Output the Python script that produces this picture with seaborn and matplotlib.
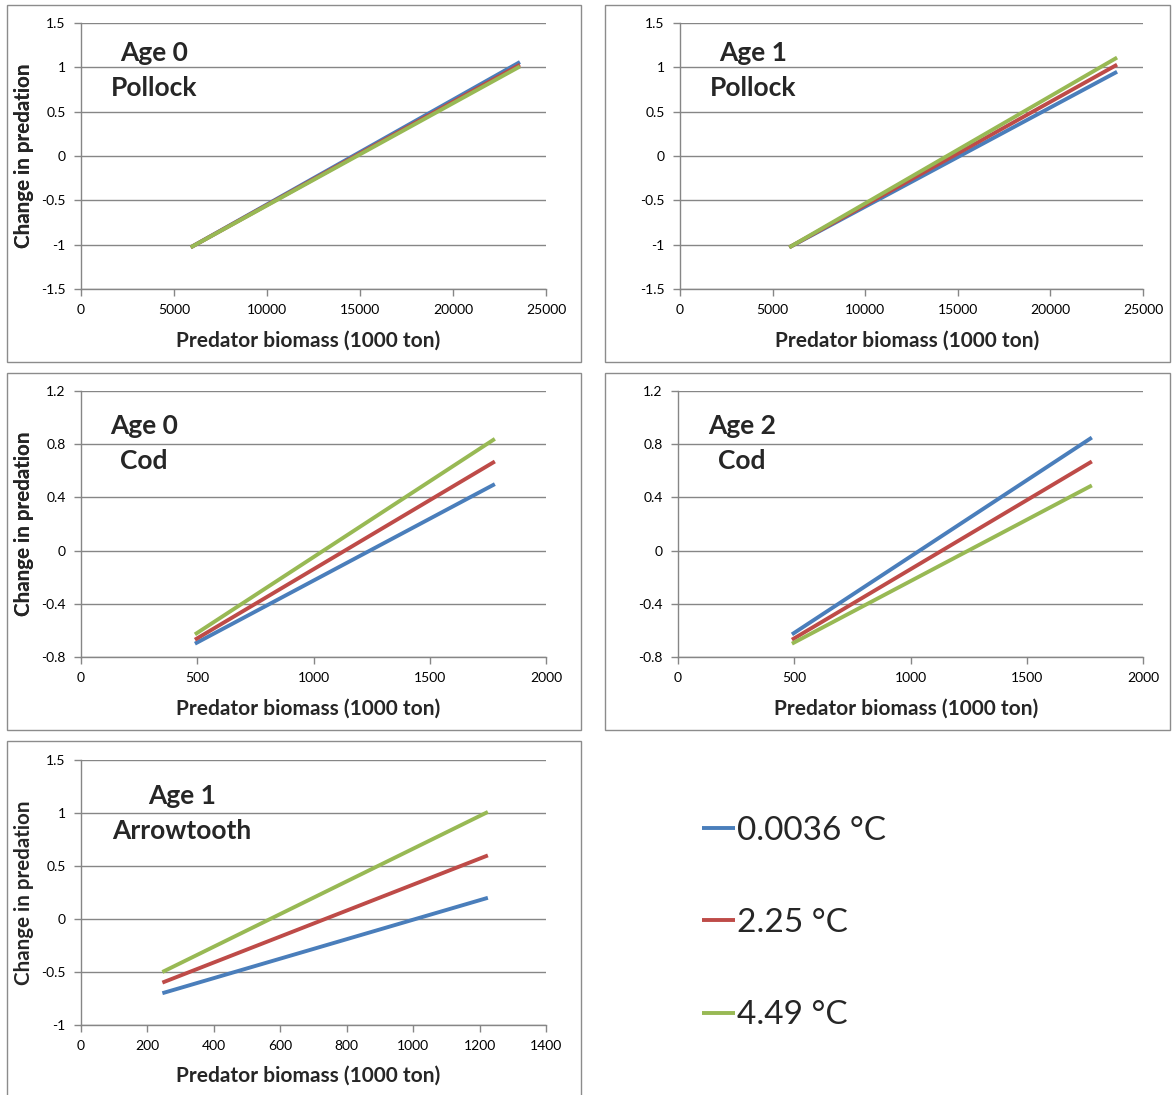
import matplotlib
matplotlib.use("Agg")
import matplotlib.pyplot as plt
from matplotlib.patches import Rectangle
import pandas as pd
import seaborn as sns

# Temperature scenarios and line colours
scenarios = ["0.0036 °C", "2.25 °C", "4.49 °C"]
colors = ["#4A7EBB", "#BE4B48", "#98B954"]

# Each series runs from a low to a high predator biomass (straight lines)
pollock0_x = [5900, 23600]
pollock0_y = {"0.0036 °C": [-1.03, 1.06], "2.25 °C": [-1.03, 1.03], "4.49 °C": [-1.03, 1.01]}

pollock1_x = [5900, 23600]
pollock1_y = {"0.0036 °C": [-1.03, 0.95], "2.25 °C": [-1.03, 1.03], "4.49 °C": [-1.03, 1.11]}

cod0_x = [490, 1780]
cod0_y = {"0.0036 °C": [-0.70, 0.50], "2.25 °C": [-0.67, 0.67], "4.49 °C": [-0.63, 0.84]}

cod2_x = [490, 1780]
cod2_y = {"0.0036 °C": [-0.63, 0.85], "2.25 °C": [-0.67, 0.67], "4.49 °C": [-0.70, 0.49]}

arrow1_x = [245, 1225]
arrow1_y = {"0.0036 °C": [-0.70, 0.20], "2.25 °C": [-0.60, 0.60], "4.49 °C": [-0.50, 1.01]}

titles = [("Age 0", "Pollock"), ("Age 1", "Pollock"), ("Age 0", "Cod"),
          ("Age 2", "Cod"), ("Age 1", "Arrowtooth")]
x_ticks = [[0, 5000, 10000, 15000, 20000, 25000],
           [0, 5000, 10000, 15000, 20000, 25000],
           [0, 500, 1000, 1500, 2000],
           [0, 500, 1000, 1500, 2000],
           [0, 200, 400, 600, 800, 1000, 1200, 1400]]
y_ticks = [[-1.5, -1, -0.5, 0, 0.5, 1, 1.5],
           [-1.5, -1, -0.5, 0, 0.5, 1, 1.5],
           [-0.8, -0.4, 0, 0.4, 0.8, 1.2],
           [-0.8, -0.4, 0, 0.4, 0.8, 1.2],
           [-1, -0.5, 0, 0.5, 1, 1.5]]
y_labels = [["-1.5", "-1", "-0.5", "0", "0.5", "1", "1.5"],
            ["-1.5", "-1", "-0.5", "0", "0.5", "1", "1.5"],
            ["-0.8", "-0.4", "0", "0.4", "0.8", "1.2"],
            ["-0.8", "-0.4", "0", "0.4", "0.8", "1.2"],
            ["-1", "-0.5", "0", "0.5", "1", "1.5"]]
panels = [(pollock0_x, pollock0_y), (pollock1_x, pollock1_y), (cod0_x, cod0_y),
          (cod2_x, cod2_y), (arrow1_x, arrow1_y)]

sns.set_theme(style="white")
plt.rcParams["font.family"] = ["Lato", "DejaVu Sans"]

W, H = 1173, 1095
fig = plt.figure(figsize=(W / 100, H / 100), dpi=100)

# layout in pixels: plot area (left, right, top, bottom), chart box, title placement
plot_px = [(81, 546, 23, 289), (680, 1143, 23, 289), (81, 546, 391, 657),
           (678, 1143, 391, 657), (81, 546, 760, 1025)]
box_px = [(7, 581, 5, 362), (605, 1170, 5, 362), (7, 581, 373, 730),
          (605, 1170, 373, 730), (7, 581, 741, 1100)]
title_pos = [(0.157, 0.887, 0.756), (0.158, 0.887, 0.756), (0.135, 0.868, 0.737),
             (0.138, 0.868, 0.737), (0.217, 0.864, 0.732)]

grid_c = "#868686"
handles = None
for i, ((xs, ys), (l, r, t, b), (bl, br, bt, bb)) in enumerate(zip(panels, plot_px, box_px)):
    fig.add_artist(Rectangle((bl / W, 1 - bb / H), (br - bl) / W, (bb - bt) / H,
                             transform=fig.transFigure, fill=False,
                             edgecolor="#8c8c8c", linewidth=1.0))
    ax = fig.add_axes([l / W, 1 - b / H, (r - l) / W, (b - t) / H])
    df = pd.DataFrame([{"biomass": x, "change": y, "scenario": s}
                       for s in scenarios for x, y in zip(xs, ys[s])])
    sns.lineplot(data=df, x="biomass", y="change", hue="scenario",
                 hue_order=scenarios, palette=colors, linewidth=2.8,
                 ax=ax, legend=(i == 0), solid_capstyle="butt")
    if i == 0:
        handles, labels = ax.get_legend_handles_labels()
        ax.get_legend().remove()
    ax.set_xlim(x_ticks[i][0], x_ticks[i][-1])
    ax.set_ylim(y_ticks[i][0], y_ticks[i][-1])
    ax.set_xticks(x_ticks[i])
    ax.set_xticklabels([str(v) for v in x_ticks[i]])
    ax.set_yticks(y_ticks[i])
    ax.set_yticklabels(y_labels[i])
    ax.yaxis.grid(True, color=grid_c, linewidth=1.0)
    ax.xaxis.grid(False)
    for side in ["top", "right"]:
        ax.spines[side].set_visible(False)
    for side in ["left", "bottom"]:
        ax.spines[side].set_color(grid_c)
        ax.spines[side].set_linewidth(1.0)
    ax.tick_params(axis="both", which="major", length=5, width=1.0, color=grid_c,
                   labelsize=10, labelcolor="black", direction="out", pad=6,
                   left=True, bottom=True)
    ax.set_xlabel("Predator biomass (1000 ton)", fontsize=15, fontweight="bold")
    ax.xaxis.set_label_coords((308 - l) / (r - l) if i % 2 == 0 else 0.49, -0.155)
    ax.xaxis.get_label().set_va("top")
    ax.set_ylabel("Change in predation", fontsize=14.8, fontweight="bold")
    ax.yaxis.set_label_coords((34 - l) / (r - l), 0.5)
    tx, ty1, ty2 = title_pos[i]
    ax.text(tx, ty1, titles[i][0], transform=ax.transAxes, ha="center", va="center",
            fontsize=19, fontweight="bold")
    ax.text(tx, ty2, titles[i][1], transform=ax.transAxes, ha="center", va="center",
            fontsize=19, fontweight="bold")
    ax.set_facecolor("white")

leg = fig.legend(handles, scenarios, loc="center left",
                 bbox_to_anchor=(685 / W, 1 - 923 / H), frameon=False,
                 fontsize=24, handlelength=1.0, handletextpad=0.05,
                 labelspacing=1.87, borderpad=0)
for ln in leg.get_lines():
    ln.set_linewidth(2.8)

fig.savefig("out.png", dpi=100, facecolor="white")
